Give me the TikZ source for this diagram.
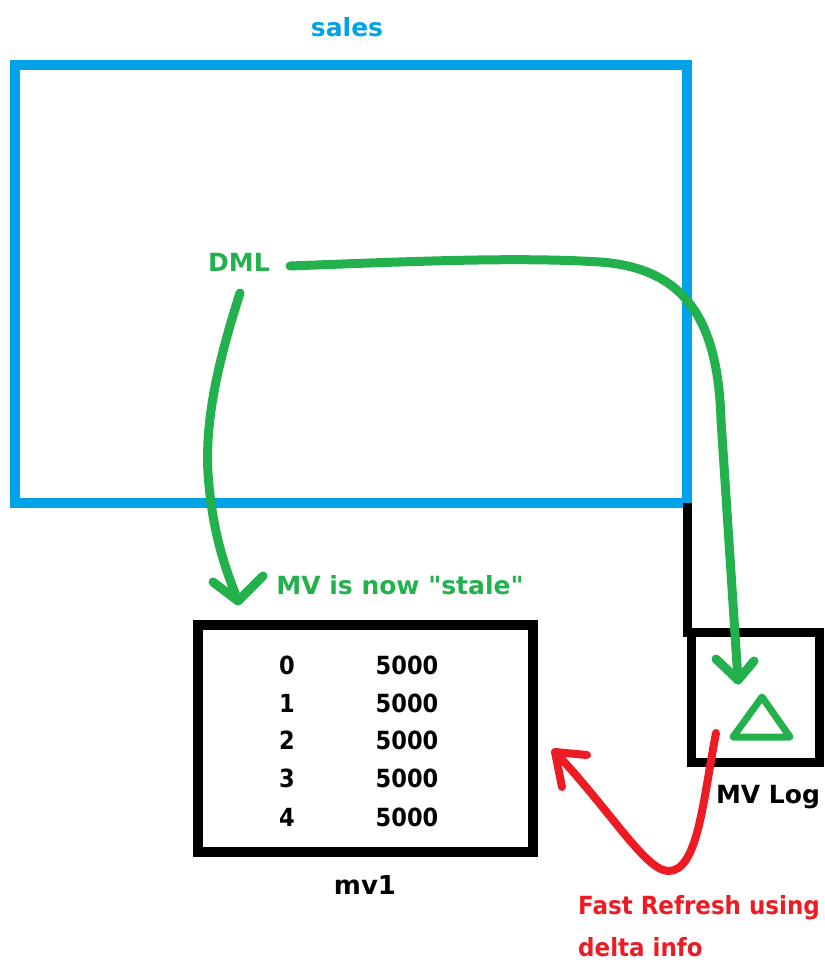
\documentclass[tikz,border=0pt]{standalone}
\usepackage{fontspec}
\newfontfamily\tfont{DejaVu Sans}
\newfontfamily\nfont{DejaVu Sans}[FakeStretch=0.9]
\newfontfamily\rfont{DejaVu Sans}[FakeStretch=0.92]
\definecolor{pblue}{RGB}{0,162,232}
\definecolor{pgreen}{RGB}{34,177,76}
\definecolor{pred}{RGB}{237,28,36}
\tikzset{
  txt/.style={inner sep=0pt, font=\tfont\fontsize{25}{29}\selectfont\bfseries},
  num/.style={inner sep=0pt, font=\nfont\fontsize{25}{29}\selectfont\bfseries},
  rtxt/.style={inner sep=0pt, font=\rfont\fontsize{25}{29}\selectfont\bfseries, text=pred, anchor=west},
  gline/.style={draw=pgreen, line width=9pt, line cap=round, line join=round},
  rline/.style={draw=pred, line width=8pt, line cap=round, line join=round},
}
\begin{document}
\begin{tikzpicture}[x=1pt,y=-1pt]
\useasboundingbox (0,0) rectangle (824,965);
% sales box
\draw[pblue, line width=10pt] (15,65) rectangle (687,503);
\node[txt, text=pblue] (sales) at (347,27) {sales};
\node[txt, text=pgreen] (dml) at (239,262) {DML};
% black connector and MV log box
\coordinate (corner) at (687,503);
\coordinate (logtop) at (687,637);
\draw[line width=9pt] (corner) -- (logtop);
\draw[line width=9pt] (691,632) rectangle (819,762);
\draw[pgreen, line width=7pt, line join=round] (762,697) -- (733,737) -- (790,737) -- cycle;
\node[txt] (mvlog) at (768,797) {MV Log};
% mv1 box
\draw[line width=10pt] (198,625) rectangle (533,852);
\foreach \i/\y in {0/665,1/703,2/740,3/778,4/817}{
  \node[num] (k\i) at (287,\y) {\i};
  \node[num] (v\i) at (407,\y) {5000};
}
\node[txt, font=\tfont\fontsize{26}{30}\selectfont\bfseries] (mv1) at (365,885) {mv1};
\node[txt, text=pgreen] (stale) at (400,585) {MV is now "stale"};
% green arrow 1
\coordinate (a1s) at (240,293);
\coordinate (a1t) at (238,601);
\draw[gline] (a1s) .. controls (222,350) and (202,420) .. (209,485) .. controls (214,540) and (228,575) .. (a1t);
\draw[gline] (213,582) -- (a1t) -- (263,576);
% green arrow 2
\coordinate (a2s) at (290,266);
\coordinate (a2t) at (738,680);
\draw[gline] (a2s) .. controls (420,261) and (520,257) .. (600,262) .. controls (685,268) and (718,320) .. (721,420) -- (a2t);
\draw[gline] (716,659) -- (a2t) -- (754,661);
% red arrow
\coordinate (rs) at (716,733);
\coordinate (rt) at (555,752);
\draw[rline] (rs) .. controls (703,800) and (698,872) .. (668,871) .. controls (645,870) and (610,810) .. (rt);
\draw[rline] (587,755) -- (rt) -- (562,787);
\node[rtxt] (fr1) at (578,908) {Fast Refresh using};
\node[rtxt] (fr2) at (578,947) {delta info};
\end{tikzpicture}
\end{document}
